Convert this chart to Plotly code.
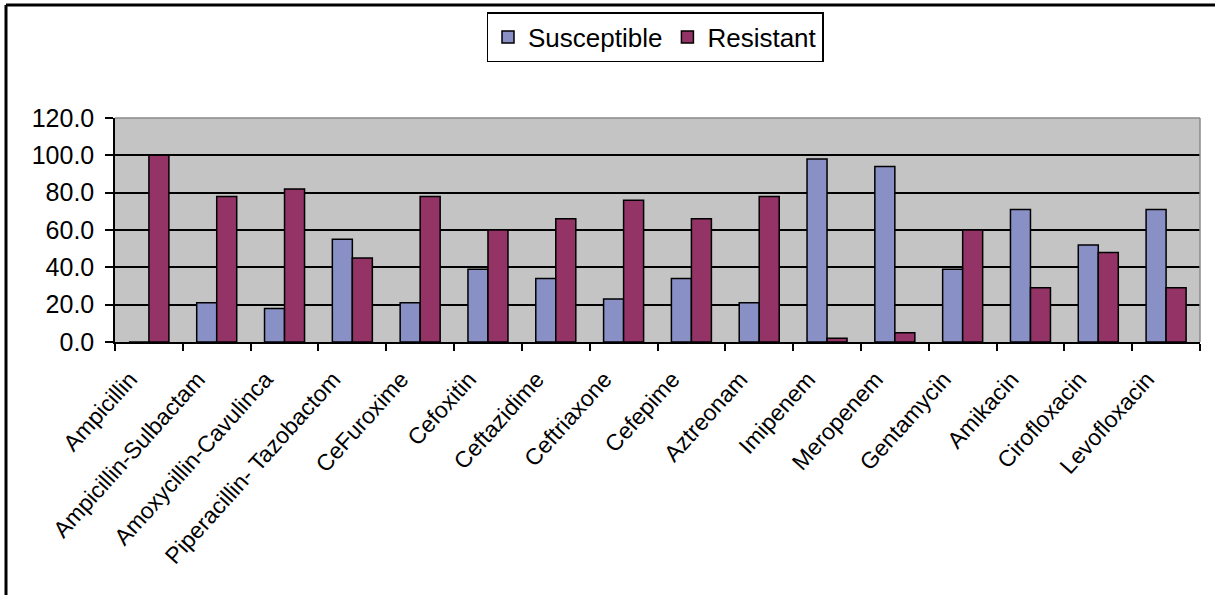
import plotly.graph_objects as go

categories = ["Ampicillin", "Ampicillin-Sulbactam", "Amoxycillin-Cavulinca",
              "Piperacillin- Tazobactom", "CeFuroxime", "Cefoxitin", "Ceftazidime",
              "Ceftriaxone", "Cefepime", "Aztreonam", "Imipenem", "Meropenem",
              "Gentamycin", "Amikacin", "Cirofloxacin", "Levofloxacin"]
susceptible = [0, 21, 18, 55, 21, 39, 34, 23, 34, 21, 98, 94, 39, 71, 52, 71]
resistant = [100, 78, 82, 45, 78, 60, 66, 76, 66, 78, 2, 5, 60, 29, 48, 29]
y_ticks = [0, 20, 40, 60, 80, 100, 120]

W, H = 1215, 595
L, R, T, B = 115, 15, 118, 253
pw, ph = W - L - R, H - T - B

fig = go.Figure()
fig.add_trace(go.Bar(name="Susceptible", x=categories, y=susceptible,
                     marker=dict(color="#8890C6", line=dict(color="black", width=1.5))))
fig.add_trace(go.Bar(name="Resistant", x=categories, y=resistant,
                     marker=dict(color="#933366", line=dict(color="black", width=1.5))))

fig.update_layout(
    width=W, height=H,
    margin=dict(l=L, r=R, t=T, b=B, autoexpand=False),
    paper_bgcolor="white", plot_bgcolor="#C3C4C3",
    barmode="group", bargap=0.41, bargroupgap=0,
    font=dict(family="Liberation Sans, Arial", color="black"),
    showlegend=True,
    legend=dict(orientation="h", x=(655 - L) / pw, xanchor="center",
                y=1 + (T - 12) / ph, yanchor="top",
                bordercolor="black", borderwidth=1.5, bgcolor="white",
                font=dict(size=26), itemwidth=30),
)
fig.update_yaxes(range=[0, 120], tickvals=y_ticks,
                 ticktext=[f"{v:.1f}" for v in y_ticks],
                 tickfont=dict(size=25), showgrid=True, gridcolor="black", gridwidth=1.5,
                 showline=True, linecolor="black", linewidth=1.5,
                 ticks="outside", ticklen=8, tickcolor="black", tickwidth=1.5,
                 ticklabelstandoff=6, zeroline=False, mirror=False)
fig.update_xaxes(tickangle=-48, tickfont=dict(size=23), tickson="boundaries",
                 ticklabelstandoff=13, ticklabelshift=-19,
                 showline=True, linecolor="black", linewidth=1.5,
                 ticks="outside", ticklen=7, tickcolor="black", tickwidth=1.5,
                 showgrid=False)

# plot area border (top/right, gray)
fig.add_shape(type="line", xref="paper", yref="paper", x0=0, x1=1, y0=1, y1=1,
              line=dict(color="#8a8a8a", width=1.5))
fig.add_shape(type="line", xref="paper", yref="paper", x0=1, x1=1, y0=0, y1=1,
              line=dict(color="#8a8a8a", width=1.5))
# outer chart frame (left and top)
fx = (6 - L) / pw
fy = 1 + (T - 5) / ph
fig.add_shape(type="line", xref="paper", yref="paper", x0=fx, x1=fx,
              y0=-(B + 5) / ph, y1=fy, line=dict(color="black", width=3))
fig.add_shape(type="line", xref="paper", yref="paper", x0=fx, x1=(W + 5 - L) / pw,
              y0=fy, y1=fy, line=dict(color="black", width=3))

fig.write_html("out.html", config={"displayModeBar": False},
               post_script="document.body.style.margin='0';")
